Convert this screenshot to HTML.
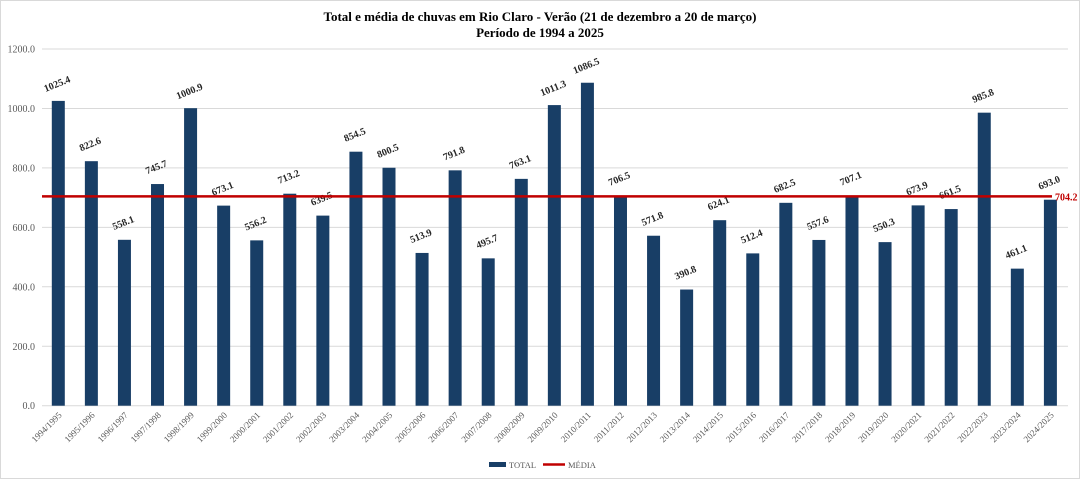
<!DOCTYPE html>
<html><head><meta charset="utf-8"><style>
body{margin:0;background:#fff;}
svg{display:block;font-family:"Liberation Serif",serif;}
</style></head><body>
<svg width="1080" height="479" viewBox="0 0 1080 479">
<rect x="0.5" y="0.5" width="1079" height="478" fill="#fff" stroke="#d9d9d9"/>
<text x="540" y="21" text-anchor="middle" font-size="13" font-weight="bold">Total e média de chuvas em Rio Claro - Verão (21 de dezembro  a 20 de março)</text>
<text x="540" y="37" text-anchor="middle" font-size="13" font-weight="bold">Período de 1994 a 2025</text>
<g id="g"></g>
</svg>
<script>
const vals=[1025.4,822.6,558.1,745.7,1000.9,673.1,556.2,713.2,639.5,854.5,800.5,513.9,791.8,495.7,763.1,1011.3,1086.5,706.5,571.8,390.8,624.1,512.4,682.5,557.6,707.1,550.3,673.9,661.5,985.8,461.1,693.0];
const y0=405.7,k=356.7/1200,x0=58.3,dx=33.07;
let s='';
for(let v=0;v<=1200;v+=200){const y=y0-v*k;
s+=`<line x1="42" x2="1068" y1="${y}" y2="${y}" stroke="#d9d9d9" stroke-width="1"/>`;
s+=`<text x="35" y="${y+3.5}" text-anchor="end" font-size="10" fill="#595959">${v.toFixed(1)}</text>`;}
vals.forEach((v,i)=>{const cx=x0+i*dx,y=y0-v*k;
s+=`<rect x="${cx-6.5}" y="${y}" width="13" height="${y0-y}" fill="#183e66"/>`;
s+=`<text transform="translate(${cx},${y-14}) rotate(-22)" text-anchor="middle" font-size="10" font-weight="bold" fill="#262626">${v.toFixed(1)}</text>`;
const a=1994+i;
s+=`<text transform="translate(${cx+4},${y0+10}) rotate(-45)" text-anchor="end" font-size="9" fill="#595959">${a}/${a+1}</text>`;});
const my=y0-704.2*k;
s+=`<line x1="42" x2="1052" y1="${my}" y2="${my}" stroke="#c00000" stroke-width="2.5"/>`;
s+=`<text x="1055" y="${my+4}" font-size="10" font-weight="bold" fill="#c00000">704.2</text>`;
s+=`<rect x="489" y="462" width="17" height="5" fill="#183e66"/><text x="509" y="468" font-size="8.5" fill="#595959">TOTAL</text>`;
s+=`<line x1="543" x2="565" y1="464.5" y2="464.5" stroke="#c00000" stroke-width="2.5"/><text x="568" y="468" font-size="8.5" fill="#595959">MÉDIA</text>`;
document.getElementById('g').innerHTML=s;
</script>
</body></html>
